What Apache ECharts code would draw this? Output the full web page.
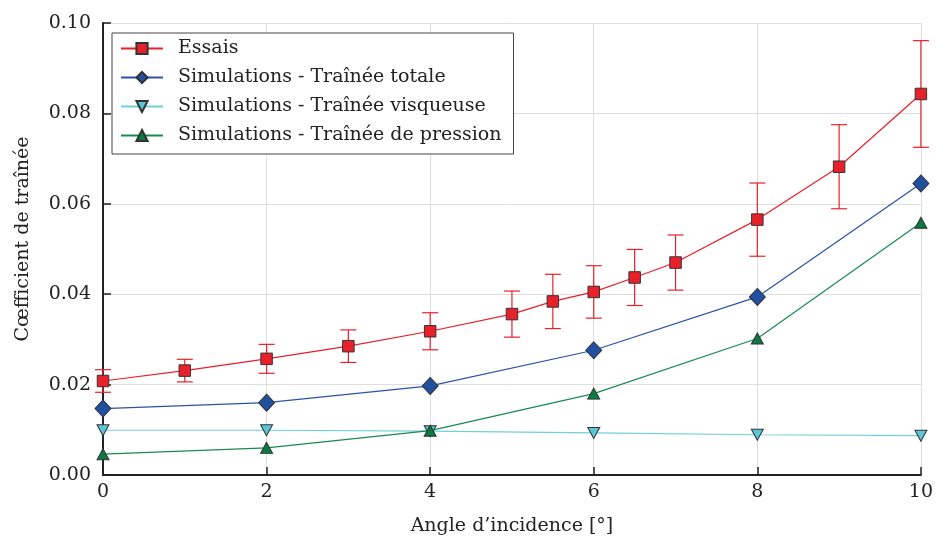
<!DOCTYPE html>
<html><head><meta charset="utf-8">
<script src="https://cdn.jsdelivr.net/npm/echarts@6/dist/echarts.min.js"></script>
<style>html,body{margin:0;padding:0;background:#fff}#c{width:936px;height:541px}</style>
</head><body><div id="c"></div>
<script>
const essaisX = [0, 1, 2, 3, 4, 5, 5.5, 6, 6.5, 7, 8, 9, 10];
const essaisY = [0.0208, 0.0231, 0.0257, 0.0285, 0.0318, 0.0356, 0.0384, 0.0405, 0.0437, 0.0470, 0.0565, 0.0682, 0.0843];
const essaisErr = [0.0025, 0.0025, 0.0032, 0.0036, 0.0041, 0.0051, 0.0060, 0.0058, 0.0062, 0.0061, 0.0081, 0.0093, 0.0118];
const simX = [0, 2, 4, 6, 8, 10];
const totale = [0.0147, 0.0160, 0.0197, 0.0276, 0.0394, 0.0645];
const visqueuse = [0.0099, 0.0099, 0.0097, 0.0093, 0.0089, 0.0087];
const pression = [0.0046, 0.0060, 0.0098, 0.0180, 0.0302, 0.0558];
const names = ['Essais', 'Simulations - Traînée totale', 'Simulations - Traînée visqueuse', 'Simulations - Traînée de pression'];
const xTicks = [0, 2, 4, 6, 8, 10];
const yTicks = [0.00, 0.02, 0.04, 0.06, 0.08, 0.10];

const FONT = 'DejaVu Serif';
const FS = 19;
const TXT = '#222';
const pair = (xs, ys) => xs.map((x, i) => [x, ys[i]]);
const chart = echarts.init(document.getElementById('c'), null, {renderer: 'canvas'});
chart.setOption({
  animation: false,
  backgroundColor: '#fff',
  textStyle: {fontFamily: FONT},
  grid: {left: 103, right: 14, top: 23, bottom: 65, containLabel: false},
  legend: {
    left: 112, top: 33, orient: 'vertical',
    data: names,
    backgroundColor: '#fff', borderColor: '#444', borderWidth: 1, borderRadius: 0,
    padding: [6, 12, 9, 8], itemGap: 10, itemWidth: 42, itemHeight: 14,
    textStyle: {fontFamily: FONT, fontSize: FS, color: TXT, padding: [0, 0, 0, 10]}
  },
  xAxis: {
    type: 'value', min: 0, max: 10, interval: 2,
    name: 'Angle d\u2019incidence [°]', nameLocation: 'middle', nameGap: 42,
    nameTextStyle: {fontFamily: FONT, fontSize: FS, color: TXT},
    axisLine: {show: true, lineStyle: {color: '#222', width: 2}},
    axisTick: {show: true, inside: true, length: 8, lineStyle: {color: '#222', width: 1.5}},
    axisLabel: {fontFamily: FONT, fontSize: FS, color: TXT, margin: 8,
      formatter: v => xTicks.includes(v) ? String(v) : ''},
    splitLine: {show: true, lineStyle: {color: '#dedede', width: 1}}
  },
  yAxis: {
    type: 'value', min: 0, max: 0.1, interval: 0.02,
    name: 'Cœfficient de traînée', nameLocation: 'middle', nameGap: 70, nameRotate: 90,
    nameTextStyle: {fontFamily: FONT, fontSize: FS, color: TXT, padding: [0, 0, 0, 20]},
    axisLine: {show: true, lineStyle: {color: '#222', width: 2}},
    axisTick: {show: true, inside: true, length: 8, lineStyle: {color: '#222', width: 1.5}},
    axisLabel: {fontFamily: FONT, fontSize: FS, color: TXT, margin: 12,
      formatter: v => { const t = yTicks.find(k => Math.abs(k - v) < 1e-9); return t === undefined ? '' : t.toFixed(2); }},
    splitLine: {show: true, lineStyle: {color: '#dedede', width: 1}}
  },
  series: [
    {
      type: 'custom', name: 'err', z: 1, silent: true,
      data: essaisX.map((x, i) => [x, essaisY[i], essaisErr[i]]),
      encode: {x: 0, y: 1},
      renderItem: (params, api) => {
        const x = api.value(0), y = api.value(1), e = api.value(2);
        const t = api.coord([x, y + e]), b = api.coord([x, y - e]);
        const w = 8;
        const st = {stroke: '#e8202a', lineWidth: 1.2};
        return {type: 'group', children: [
          {type: 'line', shape: {x1: t[0], y1: t[1], x2: b[0], y2: b[1]}, style: st},
          {type: 'line', shape: {x1: t[0] - w, y1: t[1], x2: t[0] + w, y2: t[1]}, style: st},
          {type: 'line', shape: {x1: b[0] - w, y1: b[1], x2: b[0] + w, y2: b[1]}, style: st}
        ]};
      }
    },
    {
      type: 'line', name: names[0], z: 5, data: pair(essaisX, essaisY),
      symbol: 'rect', symbolSize: 11.5,
      lineStyle: {color: '#e8202a', width: 1.2},
      itemStyle: {color: '#e8202a', borderColor: '#333', borderWidth: 1}
    },
    {
      type: 'line', name: names[1], z: 4, data: pair(simX, totale),
      symbol: 'diamond', symbolSize: [16, 17],
      lineStyle: {color: '#2a52a8', width: 1.2},
      itemStyle: {color: '#2150a0', borderColor: '#333', borderWidth: 1}
    },
    {
      type: 'line', name: names[2], z: 3, data: pair(simX, visqueuse),
      symbol: 'triangle', symbolRotate: 180, symbolSize: [12, 11],
      lineStyle: {color: '#6fd0dc', width: 1.2},
      itemStyle: {color: '#5bc6d6', borderColor: '#333', borderWidth: 1}
    },
    {
      type: 'line', name: names[3], z: 4, data: pair(simX, pression),
      symbol: 'triangle', symbolSize: [12, 11],
      lineStyle: {color: '#1a8a50', width: 1.2},
      itemStyle: {color: '#0b7a40', borderColor: '#333', borderWidth: 1}
    }
  ]
});
</script></body></html>
